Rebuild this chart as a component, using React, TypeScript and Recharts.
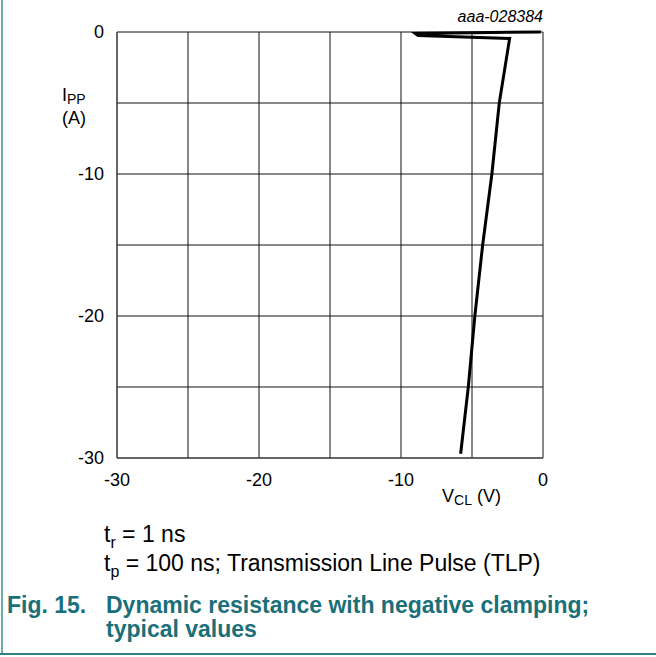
import { LineChart, Line, XAxis, YAxis, CartesianGrid } from "recharts";

// V_CL (V) vs I_PP (A), TLP measurement, in drawing order
const vcl = [-0.15, -9.0, -8.8, -2.35, -3.08, -3.6, -4.25, -4.8, -5.26, -5.8];
const ipp = [0.0, -0.1, -0.25, -0.45, -5, -10, -15, -20, -25, -29.7];

const gridTicks = [-30, -25, -20, -15, -10, -5, 0];
const labelTicks = [-30, -20, -10, 0];

const data = vcl.map((v, i) => ({ v, i: ipp[i] }));

const FONT = "'Liberation Sans', Arial, sans-serif";
const TEAL = "#1b6f79";

const fmt = (t: number) => (labelTicks.includes(t) ? String(t) : "");

export default function App() {
  return (
    <div style={{
      position: "absolute", left: 0, top: 0, width: 656, height: 657,
      background: "#fff", fontFamily: FONT, color: "#000", overflow: "hidden",
    }}>
      {/* frame lines */}
      <div style={{ position: "absolute", left: 1, top: 0, width: 2, height: 654, background: "#6aaab0" }} />
      <div style={{ position: "absolute", left: 0, top: 653, width: 656, height: 2, background: "#2f8088" }} />

      <LineChart
        width={656} height={657} data={data}
        margin={{ top: 32, right: 113, bottom: 169, left: 77 }}
        style={{ position: "absolute", left: 0, top: 0 }}
      >
        <CartesianGrid stroke="#111" strokeWidth={1}
          horizontalValues={gridTicks} verticalValues={gridTicks} />
        <XAxis type="number" dataKey="v" domain={[-30, 0]} ticks={gridTicks}
          interval={0} tickFormatter={fmt} height={30}
          axisLine={{ stroke: "#444" }} tickLine={false} tickSize={0} tickMargin={15}
          tick={{ fontSize: 18, fill: "#000", fontFamily: FONT }} />
        <YAxis type="number" dataKey="i" domain={[-30, 0]} ticks={gridTicks}
          interval={0} tickFormatter={fmt} width={40}
          axisLine={{ stroke: "#444" }} tickLine={false} tickSize={0} tickMargin={13}
          tick={{ fontSize: 18, fill: "#000", fontFamily: FONT }} />
        <Line type="linear" dataKey="i" stroke="#000" strokeWidth={3}
          dot={false} isAnimationActive={false} />
      </LineChart>

      <div style={{ position: "absolute", right: 113, top: 8, fontSize: 16, fontStyle: "italic" }}>
        aaa-028384
      </div>

      <div style={{ position: "absolute", left: 62, top: 84, fontSize: 18, lineHeight: "22px" }}>
        <div>I<span style={{ fontSize: 14, position: "relative", top: 3 }}>PP</span></div>
        <div>(A)</div>
      </div>

      <div style={{ position: "absolute", left: 442, top: 486, fontSize: 18 }}>
        V<span style={{ fontSize: 14, position: "relative", top: 3 }}>CL</span> (V)
      </div>

      <div style={{ position: "absolute", left: 104, top: 521, fontSize: 23, lineHeight: "26px" }}>
        <div>t<span style={{ fontSize: 16, position: "relative", top: 6 }}>r</span> = 1 ns</div>
        <div>t<span style={{ fontSize: 16, position: "relative", top: 6 }}>p</span> = 100 ns; Transmission Line Pulse (TLP)</div>
      </div>

      <div style={{
        position: "absolute", left: 7, top: 593, fontSize: 23, fontWeight: "bold",
        color: TEAL, lineHeight: "24px",
      }}>
        <div style={{ display: "flex" }}>
          <span style={{ width: 99, flex: "none" }}>Fig. 15.</span>
          <span>Dynamic resistance with negative clamping;<br />typical values</span>
        </div>
      </div>
    </div>
  );
}
